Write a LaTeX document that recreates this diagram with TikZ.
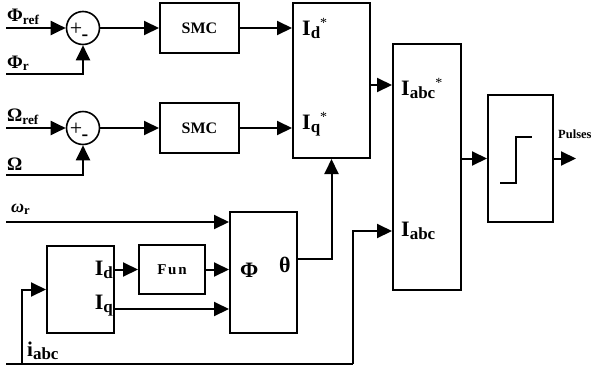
\documentclass[tikz,border=0pt]{standalone}
\usepackage{fontspec}
\setmainfont{Liberation Serif}
\usetikzlibrary{arrows.meta}
\newcommand{\bsub}[1]{\raisebox{-3pt}{\fontsize{17}{17}\selectfont #1}}
\newcommand{\bstar}{\raisebox{8pt}{\fontsize{14}{14}\selectfont\mdseries *}}

\begin{document}
\begin{tikzpicture}[x=1pt,y=-1pt]
  \tikzstyle{blk} = [draw, line width=2pt, inner sep=0pt]
  \tikzstyle{sum} = [circle, draw, line width=1.6pt, minimum size=33pt, inner sep=0pt]
  \tikzstyle{ln} = [line width=2pt]
  \tikzstyle{arr} = [line width=2pt, -{Triangle[length=15pt,width=14pt]}]
  \tikzstyle{sgn} = [inner sep=0pt, font=\fontsize{22}{22}\selectfont]
  \tikzstyle{lbl} = [inner sep=0pt, font=\bfseries\fontsize{19}{19}\selectfont]
  \tikzstyle{big} = [inner sep=0pt, font=\bfseries\fontsize{22}{22}\selectfont]
  \useasboundingbox (0,0) rectangle (593,370);

  % blocks
  \node[sum](sum1) at (83,28){};
  \node[sum](sum2) at (83,128){};
  \node[blk, minimum width=79pt, minimum height=50pt, font=\bfseries\fontsize{16}{16}\selectfont](smc1) at (199.5,28){SMC};
  \node[blk, minimum width=79pt, minimum height=50pt, font=\bfseries\fontsize{16}{16}\selectfont](smc2) at (199.5,128){SMC};
  \node[blk, minimum width=77pt, minimum height=155pt](dq2abc) at (331.5,80.5){};
  \node[blk, minimum width=68pt, minimum height=246pt](abc) at (427,167){};
  \node[blk, minimum width=65pt, minimum height=127pt](pwm) at (520.5,158.5){};
  \node[blk, minimum width=67pt, minimum height=121pt](phi) at (263.5,272.5){};
  \node[blk, minimum width=67pt, minimum height=87pt](abc2dq) at (80.5,289.5){};
  \node[blk, minimum width=66pt, minimum height=49pt,
        font=\bfseries\fontsize{15}{15}\selectfont\addfontfeature{LetterSpace=12}](fun) at (172,269.5){Fun};

  % signs
  \node[sgn] at ([xshift=-7pt,yshift=-1pt]sum1) {+};
  \node[sgn, font=\bfseries\fontsize{20}{20}\selectfont] at ([xshift=2pt,yshift=-10pt]sum1) {-};
  \node[sgn] at ([xshift=-7pt,yshift=-1pt]sum2) {+};
  \node[sgn, font=\bfseries\fontsize{20}{20}\selectfont] at ([xshift=2pt,yshift=-10pt]sum2) {-};

  % inputs
  \coordinate (phiref) at (6,28);
  \coordinate (phir) at (6,74);
  \coordinate (omref) at (6,128);
  \coordinate (om) at (6,175);
  \coordinate (wr) at (6,222);
  \coordinate (iabc) at (6,364);
  \coordinate (tap) at (353,364);
  \coordinate (branch) at (22,364);
  \coordinate (pulses) at (576,158.5);

  \node[lbl, anchor=base west] at (7,21){Φ\textsubscript{ref}};
  \node[lbl, anchor=base west] at (7,68){Φ\textsubscript{r}};
  \node[lbl, anchor=base west] at (7,121){Ω\textsubscript{ref}};
  \node[lbl, anchor=base west] at (7,170){Ω};
  \node[lbl, anchor=base west, font=\bfseries\fontsize{18}{18}\selectfont] at (11,212){\textit{ω}\textsubscript{r}};
  \node[lbl, anchor=base west, font=\bfseries\fontsize{21}{21}\selectfont] at (27,356){i\bsub{abc}};

  % block labels
  \node[big, anchor=base west] at (302,35){I\bsub{d}\bstar};
  \node[big, anchor=base west] at (302,129){I\bsub{q}\bstar};
  \node[big, anchor=base west] at (401,95){I\bsub{abc}\bstar};
  \node[big, anchor=base west] at (401,236){I\bsub{abc}};
  \node[big, anchor=base east] at (113,275){I\bsub{d}};
  \node[big, anchor=base east] at (113,309){I\bsub{q}};
  \node[big, anchor=base west] at (240,277){Φ};
  \node[big, anchor=base west] at (279,272){θ};
  \node[inner sep=0pt, anchor=base west, font=\bfseries\fontsize{12.5}{12.5}\selectfont] at (558,138){Pulses};

  % step symbol
  \draw[ln] (500,183) -- (516,183) -- (516,137) -- (532,137);

  % connectors
  \draw[arr](phiref)--(sum1.west);
  \draw[arr](phir)-|(sum1.south);
  \draw[arr](sum1.east)--(smc1.west);
  \draw[arr](smc1.east)--(smc1.east -| dq2abc.west);
  \draw[arr](omref)--(sum2.west);
  \draw[arr](om)-|(sum2.south);
  \draw[arr](sum2.east)--(smc2.west);
  \draw[arr](smc2.east)--(smc2.east -| dq2abc.west);
  \draw[arr]([yshift=-4.5pt]dq2abc.east)--([yshift=-4.5pt]dq2abc.east -| abc.west);
  \draw[arr](pwm.west -| abc.east)--(pwm.west);
  \draw[arr](pwm.east)--(pulses);
  \draw[arr](wr)--(wr -| phi.west);
  \draw[arr](fun.west -| abc2dq.east)--(fun.west);
  \draw[arr](fun.east)--(fun.east -| phi.west);
  \draw[arr]([yshift=-19.5pt]abc2dq.east)--([yshift=-19.5pt]abc2dq.east -| phi.west);
  \draw[arr]([yshift=13.5pt]phi.east)-|(dq2abc.south);
  \draw[ln](iabc)--(tap);
  \draw[arr](tap)|-([yshift=-64pt]abc.west);
  \draw[arr](branch)|-(abc2dq.west);

\end{tikzpicture}
\end{document}
